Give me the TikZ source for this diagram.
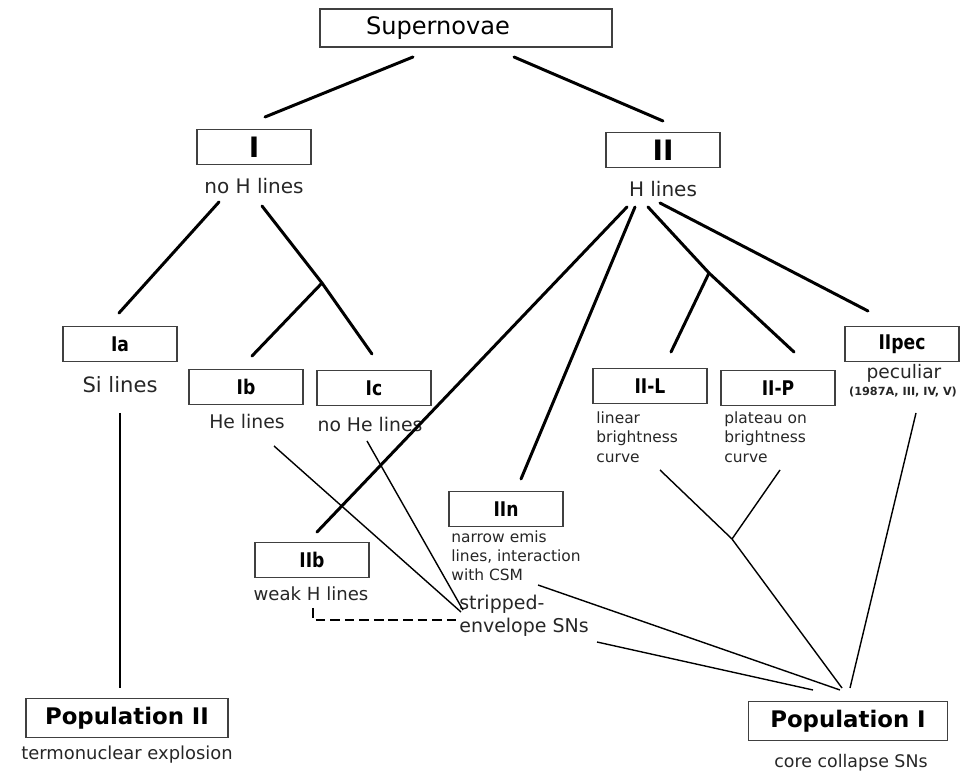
\documentclass[tikz,border=0pt]{standalone}
\usepackage{fontspec}
\setmainfont{DejaVu Sans}
\newfontfamily\boxfont[FakeStretch=0.85]{DejaVu Sans}
\usetikzlibrary{positioning}
\usetikzlibrary{calc}

\tikzset{
    sbox/.style = {draw = black!75, line width = 1.1pt, minimum width = 2.28cm, minimum height = 0.7cm, inner sep = 0pt, font = \boxfont\bfseries\fontsize{11.5}{12}\selectfont},
    popbox/.style = {sbox, minimum height = 0.78cm, font = \bfseries\fontsize{13}{14}\selectfont},
    desc/.style = {inner sep = 0pt, text = black!85},
    branch/.style = {line width = 1.7pt, line cap = round},
    link/.style = {line width = 0.8pt},
}

\begin{document}
\begin{tikzpicture}[x = 0.02cm, y = -0.02cm]
    \useasboundingbox (0,0) rectangle (964,776);

    % boxes
    \node (sn) at (466,28) [sbox, minimum width = 5.84cm, minimum height = 0.76cm, text width = 4cm, inner xsep = 0.92cm, align = left, font = \fontsize{13.7}{14}\selectfont] {Supernovae};

    \node (tI) at (254,147) [sbox, font = \bfseries\fontsize{16}{16}\selectfont] {I};
    \node (tII) at (663,150) [sbox, font = \bfseries\fontsize{16}{16}\selectfont] {II};

    \node (ia) at (120,344) [sbox] {Ia};
    \node (ib) at (246,387) [sbox] {Ib};
    \node (ic) at (374,388) [sbox] {Ic};
    \node (iil) at (650,386) [sbox] {II-L};
    \node (iip) at (778,388) [sbox] {II-P};
    \node (iipec) at (902,344) [sbox] {IIpec};
    \node (iin) at (506,509) [sbox] {IIn};
    \node (iib) at (312,560) [sbox] {IIb};

    \node (popII) at (127,718) [popbox, minimum width = 4.04cm] {Population II};
    \node (popI) at (848,721) [popbox, minimum width = 3.98cm] {Population I};

    % texts under the boxes
    \node (noH) at (254,186) [desc, font = \fontsize{11.4}{12}\selectfont] {no H lines};
    \node (withH) at (663,189) [desc, font = \fontsize{11.4}{12}\selectfont] {H lines};
    \node (siL) at (120,385) [desc, font = \fontsize{12}{13}\selectfont] {Si lines};
    \node (heL) at (247,421) [desc, font = \fontsize{10.7}{12}\selectfont] {He lines};
    \node (noHeL) at (370,424) [desc, font = \fontsize{10.7}{12}\selectfont] {no He lines};
    \node (weakH) at (311,594) [desc, font = \fontsize{10.3}{12}\selectfont] {weak H lines};
    \node (pec) at (904,373) [desc, font = \fontsize{10.6}{12}\selectfont] {peculiar};
    \node (pecRef) at (903,392) [desc, font = \bfseries\fontsize{6.4}{7}\selectfont] {(1987A, III, IV, V)};

    \node (linL) at (596,411) [desc, anchor = north west, align = left, font = \fontsize{8.8}{11.1}\selectfont] {linear\\brightness\\curve};
    \node (platP) at (724,411) [desc, anchor = north west, align = left, font = \fontsize{8.8}{11.1}\selectfont] {plateau on\\brightness\\curve};
    \node (narrN) at (451,530) [desc, anchor = north west, align = left, font = \fontsize{8.8}{10.8}\selectfont] {narrow emis\\lines, interaction\\with CSM};
    \node (strip) at (459,595) [desc, anchor = north west, align = left, font = \fontsize{10.8}{13}\selectfont] {stripped-\\envelope SNs};

    \node (term) at (127,755) [desc, font = \fontsize{10.2}{12}\selectfont] {termonuclear explosion};
    \node (core) at (851,763) [desc, font = \fontsize{9.9}{12}\selectfont] {core collapse SNs};

    % line ends and branch points
    \coordinate (snL) at (413,57);
    \coordinate (snR) at (514,57);
    \coordinate (tIin) at (265,117);
    \coordinate (tIIin) at (663,121);
    \coordinate (noHa) at (219,202);
    \coordinate (noHb) at (262,206);
    \coordinate (iaIn) at (119,313);
    \coordinate (jI) at (322,283);
    \coordinate (ibIn) at (252,356);
    \coordinate (icIn) at (372,354);
    \coordinate (hA) at (627,207);
    \coordinate (hB) at (635,207);
    \coordinate (hC) at (648,207);
    \coordinate (hD) at (660,203);
    \coordinate (iibIn) at (317,532);
    \coordinate (iinIn) at (521,479);
    \coordinate (jII) at (709,273);
    \coordinate (iilIn) at (671,352);
    \coordinate (iipIn) at (794,352);
    \coordinate (iipecIn) at (868,311);

    \coordinate (siOut) at (120,413);
    \coordinate (popIIin) at (120,688);
    \coordinate (heOut) at (274,446);
    \coordinate (noHeOut) at (367,441);
    \coordinate (stripInA) at (461,612);
    \coordinate (stripInB) at (463,610);
    \coordinate (weakOut) at (313,608);
    \coordinate (stripInC) at (457,620);
    \coordinate (narrOut) at (538,585);
    \coordinate (stripOut) at (597,642);
    \coordinate (linOut) at (660,470);
    \coordinate (platOut) at (780,470);
    \coordinate (jPop) at (732,539);
    \coordinate (pecOut) at (916,413);
    \coordinate (popInA) at (813,690);
    \coordinate (popInB) at (840,690);
    \coordinate (popInC) at (842,688);
    \coordinate (popInD) at (850,688);

    % classification tree
    \draw[branch] (snL) -- (tIin);
    \draw[branch] (snR) -- (tIIin);
    \draw[branch] (noHa) -- (iaIn);
    \draw[branch] (noHb) -- (jI) -- (icIn);
    \draw[branch] (jI) -- (ibIn);
    \draw[branch] (hA) -- (iibIn);
    \draw[branch] (hB) -- (iinIn);
    \draw[branch] (hC) -- (jII) -- (iipIn);
    \draw[branch] (jII) -- (iilIn);
    \draw[branch] (hD) -- (iipecIn);

    % populations
    \draw[link] (siOut) -- (popIIin);
    \draw[link] (heOut) -- (stripInA);
    \draw[link] (noHeOut) -- (stripInB);
    \draw[link, dash pattern = on 5.5pt off 2.8pt, line width = 1pt] (weakOut) |- (stripInC);
    \draw[link] (narrOut) -- (popInB);
    \draw[link] (stripOut) -- (popInA);
    \draw[link] (linOut) -- (jPop) -- (popInC);
    \draw[link] (platOut) -- (jPop);
    \draw[link] (pecOut) -- (popInD);

\end{tikzpicture}
\end{document}
